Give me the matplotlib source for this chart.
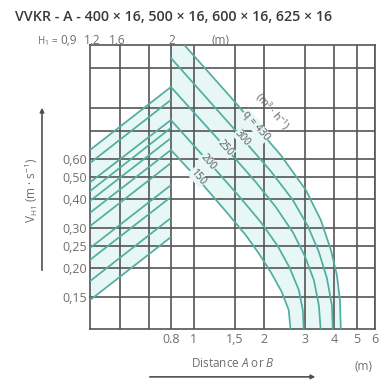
import matplotlib
matplotlib.use('agg')
import matplotlib.pyplot as plt
import numpy as np
from matplotlib.ticker import NullLocator

plt.rcParams['font.family'] = ['Open Sans', 'DejaVu Sans']
plt.rcParams['mathtext.fontset'] = 'custom'
plt.rcParams['mathtext.rm'] = 'Open Sans'
plt.rcParams['mathtext.it'] = 'Open Sans:italic'

# grid positions (log axes)
grid_x = [0.485, 0.647, 0.8, 1, 1.5, 2, 3, 4, 5, 6]
grid_x_labels = ['', '', '0.8', '1', '1,5', '2', '3', '4', '5', '6']
grid_y = [0.15, 0.2, 0.25, 0.3, 0.4, 0.5, 0.6, 0.8, 1.0, 1.5]
grid_y_labels = ['0,15', '0,20', '0,25', '0,30', '0,40', '0,50', '0,60', '', '', '']

# rising lines, from the left edge to A = 0.8 m
rise_a = [0.36, 0.8]
rise_v_left = [0.658, 0.577, 0.475, 0.435, 0.394, 0.350, 0.306, 0.2455, 0.218, 0.176, 0.1455]
rise_v_right = [1.239, 1.088, 0.889, 0.821, 0.741, 0.658, 0.577, 0.462, 0.410, 0.332, 0.274]

# throw curves per volume flow q (m3/h)
q_levels = [430, 300, 250, 200, 150]
a_430 = [0.8, 1.442, 2.366, 3.031, 3.516, 3.881, 4.119, 4.244, 4.285]
v_430 = [2.20, 1.120, 0.625, 0.44, 0.325, 0.241, 0.187, 0.1455, 0.105]
a_300 = [0.8, 1.442, 2.143, 2.665, 3.092, 3.447, 3.731, 3.92, 3.959]
v_300 = [1.659, 0.846, 0.532, 0.398, 0.306, 0.236, 0.1816, 0.138, 0.105]
a_250 = [0.8, 1.306, 1.848, 2.252, 2.665, 3.001, 3.281, 3.447, 3.516]
v_250 = [1.239, 0.713, 0.477, 0.371, 0.288, 0.2265, 0.178, 0.138, 0.105]
a_200 = [0.8, 1.183, 1.592, 1.941, 2.297, 2.586, 2.828, 2.942, 2.971]
v_200 = [0.889, 0.571, 0.406, 0.319, 0.2505, 0.2009, 0.161, 0.1316, 0.105]
a_150 = [0.8, 1.072, 1.373, 1.673, 1.904, 2.143, 2.389, 2.561, 2.612]
v_150 = [0.658, 0.477, 0.356, 0.280, 0.233, 0.193, 0.158, 0.1316, 0.105]

curves = [(a_430, v_430), (a_300, v_300), (a_250, v_250), (a_200, v_200), (a_150, v_150)]
label_pos = [(1.848, 0.837), (1.624, 0.742), (1.373, 0.671), (1.160, 0.583), (1.040, 0.501)]
label_txt = ['q = %d' % q_levels[0]] + [str(q) for q in q_levels[1:]]

h1_values = ['0,9', '1,2', '1,6', '2']
h1_x = [0.178, 0.237, 0.304, 0.444]

line_col = '#52ad a1'.replace(' ', '')
fill_col = '#e6f7f5'
grid_col = '#555555'
text_col = '#6e6e6e'

fig = plt.figure(figsize=(3.87, 3.83), dpi=100)
ax = fig.add_axes([0.2326, 0.141, 0.7364, 0.7415])
ax.set_xscale('log')
ax.set_yscale('log')
ax.set_xlim(0.36, 6.0)
ax.set_ylim(0.1088, 1.89)

# shaded band between the outer and inner lines
top_a = np.array(rise_a + a_430)
top_v = np.array([rise_v_left[0], rise_v_right[0]] + v_430)
bot_a = np.array(rise_a + a_150)
bot_v = np.array([rise_v_left[-1], rise_v_right[-1]] + v_150)
poly_a = np.concatenate([top_a, bot_a[::-1]])
poly_v = np.concatenate([top_v, bot_v[::-1]])
ax.fill(poly_a, poly_v, color=fill_col, lw=0, zorder=1)

for vl, vr in zip(rise_v_left, rise_v_right):
    ax.plot(rise_a, [vl, vr], color=line_col, lw=1.25, zorder=3, solid_capstyle='butt')
for a, v in curves:
    ax.plot(a, v, color=line_col, lw=1.25, zorder=3)

for (xa, yv), t in zip(label_pos, label_txt):
    ax.text(xa, yv, t, rotation=-49, ha='center', va='center', fontsize=7.5,
            color='#5a5a5a', zorder=4,
            bbox=dict(boxstyle='square,pad=0.05', fc=fill_col, ec='none'))
ax.text(2.17, 0.97, '(m$^3$ · h$^{-1}$)', rotation=-49, ha='center', va='center',
        fontsize=7.5, color='#5a5a5a', zorder=4)

ax.set_xticks(grid_x)
ax.set_xticklabels(grid_x_labels)
ax.set_yticks(grid_y)
ax.set_yticklabels(grid_y_labels)
ax.xaxis.set_minor_locator(NullLocator())
ax.yaxis.set_minor_locator(NullLocator())
ax.grid(True, which='major', color=grid_col, lw=1.2, zorder=2)
ax.set_axisbelow(False)
ax.tick_params(length=0, labelsize=9, labelcolor=text_col)
ax.tick_params(axis='x', pad=3)
ax.tick_params(axis='y', pad=2)
for s in ax.spines.values():
    s.set_color(grid_col)
    s.set_linewidth(1.2)

# header
fig.text(0.038, 0.955, 'VVKR - A - 400 × 16, 500 × 16, 600 × 16, 625 × 16',
         fontsize=10.3, fontweight='semibold', color='#3a3a3a', ha='left', va='center')
fig.text(0.122, 0.893, 'H$_1$ =', fontsize=7, color=text_col, ha='center', va='center')
for x, t in zip(h1_x, h1_values):
    fig.text(x, 0.893, t, fontsize=8.5, color=text_col, ha='center', va='center')
fig.text(0.571, 0.893, '(m)', fontsize=8.5, color=text_col, ha='center', va='center')

# axis captions with arrows
fig.text(0.080, 0.504, 'V$_{\\mathrm{H1}}$ (m · s$^{-1}$)', rotation=90, fontsize=8.5,
         color=text_col, ha='center', va='center')
ax.annotate('', xy=(0.1085, 0.726), xytext=(0.1085, 0.287), xycoords='figure fraction',
            textcoords='figure fraction', annotation_clip=False,
            arrowprops=dict(arrowstyle='-|>', color='#505050', lw=1.2, mutation_scale=6))
fig.text(0.602, 0.052, 'Distance $A$ or $B$', fontsize=8.5, color=text_col, ha='center', va='center')
fig.text(0.938, 0.042, '(m)', fontsize=8.5, color=text_col, ha='center', va='center')
ax.annotate('', xy=(0.822, 0.016), xytext=(0.380, 0.016), xycoords='figure fraction',
            textcoords='figure fraction', annotation_clip=False,
            arrowprops=dict(arrowstyle='-|>', color='#505050', lw=1.2, mutation_scale=6))

fig.savefig('out.png', dpi=100)
